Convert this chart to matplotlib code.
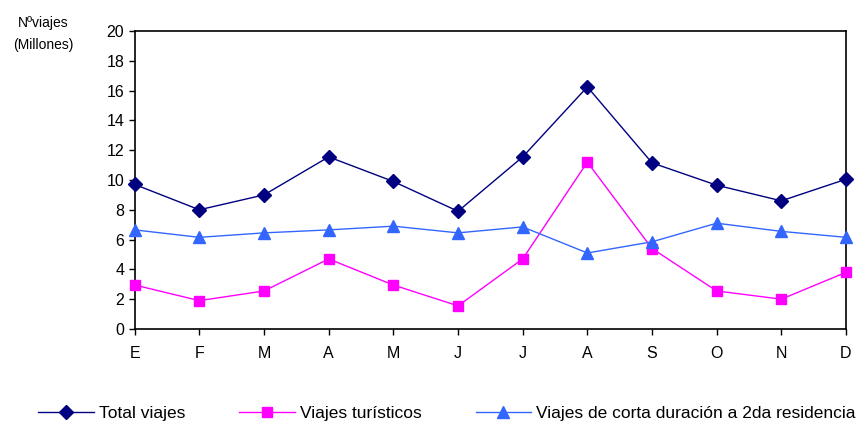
import matplotlib
matplotlib.use("Agg")
import matplotlib.pyplot as plt

months = ["E", "F", "M", "A", "M", "J", "J", "A", "S", "O", "N", "D"]
total_viajes = [9.7, 8.0, 9.0, 11.55, 9.9, 7.9, 11.55, 16.25, 11.15, 9.65, 8.6, 10.05]
viajes_turisticos = [2.95, 1.9, 2.55, 4.7, 2.95, 1.55, 4.7, 11.2, 5.4, 2.55, 2.0, 3.8]
viajes_corta = [6.65, 6.15, 6.45, 6.65, 6.9, 6.45, 6.85, 5.1, 5.85, 7.1, 6.55, 6.15]

plt.rcParams["font.family"] = ["Liberation Sans", "DejaVu Sans"]

fig = plt.figure(figsize=(8.58, 4.25), dpi=100)
ax = fig.add_axes([0.157, 0.226, 0.829, 0.701])

x = range(len(months))
ax.plot(x, total_viajes, color="#000080", lw=1, marker="D", ms=7,
        clip_on=False, zorder=3, label="Total viajes")
ax.plot(x, viajes_turisticos, color="#FF00FF", lw=1, marker="s", ms=7.5,
        clip_on=False, zorder=3, label="Viajes turísticos")
ax.plot(x, viajes_corta, color="#3366FF", lw=1, marker="^", ms=9,
        clip_on=False, zorder=3, label="Viajes de corta duración a 2da residencia")

ax.set_xlim(0, len(months) - 1)
ax.set_ylim(0, 20)
ax.set_yticks(range(0, 21, 2))
ax.set_xticks(list(x))
ax.set_xticklabels(months)
ax.tick_params(labelsize=11.5, direction="out", length=4, width=1)
ax.tick_params(axis="x", pad=8)
for s in ax.spines.values():
    s.set_linewidth(1.2)

fig.text(0.05, 0.945, "Nºviajes", fontsize=10, ha="center", va="center")
fig.text(0.05, 0.893, "(Millones)", fontsize=10, ha="center", va="center")

fig.legend(loc="center", bbox_to_anchor=(0.521, 0.028), ncol=3,
           frameon=False, fontsize=12.5, handlelength=3.2, columnspacing=3.1,
           handletextpad=0.3, borderaxespad=0, borderpad=0)

fig.savefig("out.png", dpi=100)
